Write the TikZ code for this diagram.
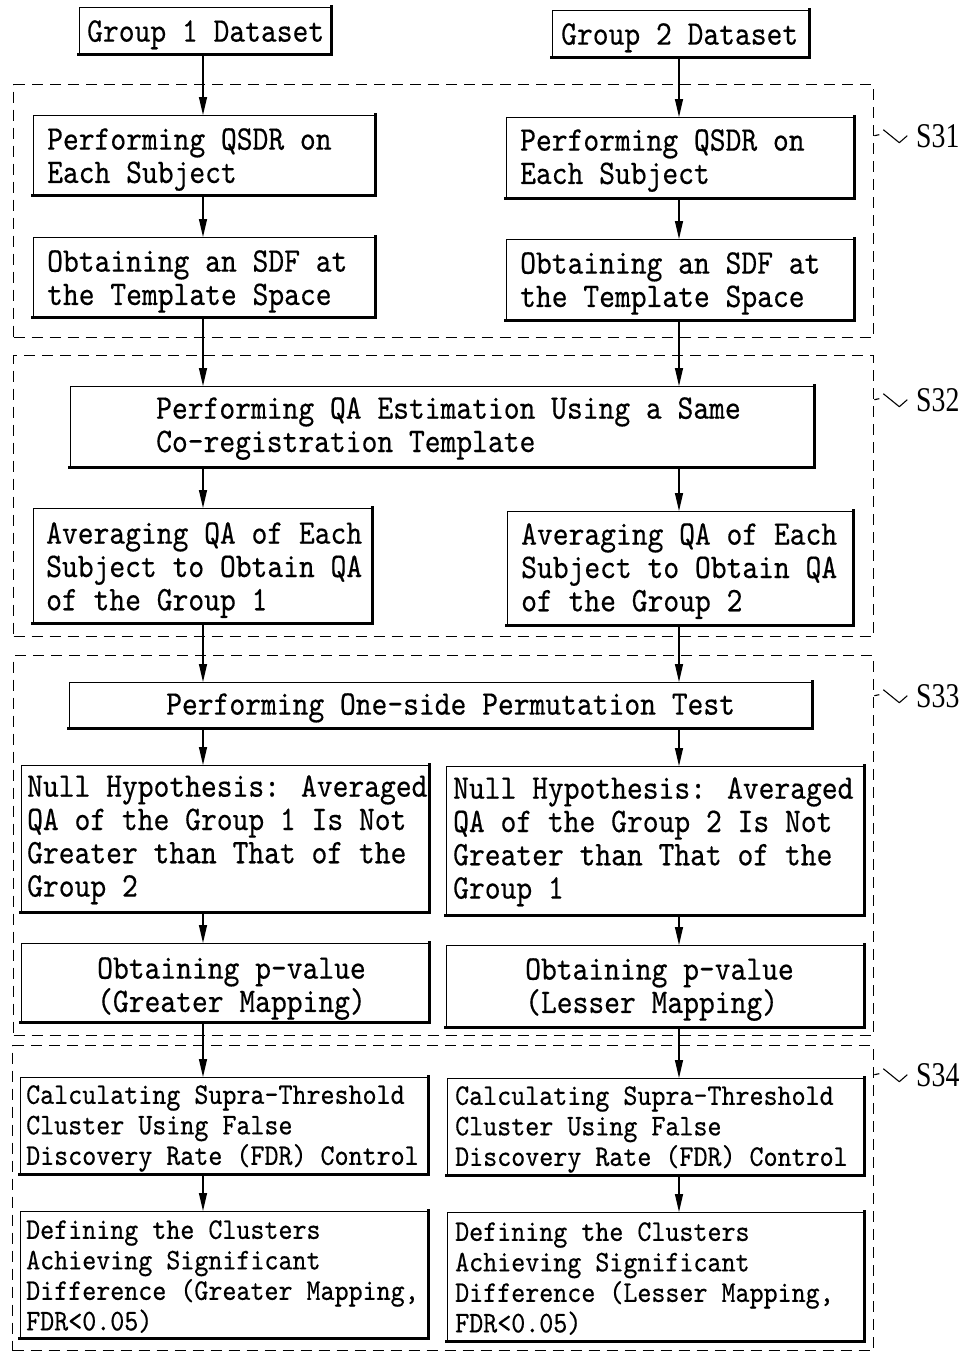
\documentclass[tikz,border=0pt]{standalone}
\usepackage{fontspec}
\usetikzlibrary{arrows.meta}
\newfontfamily\boxfont{lmmono10-regular.otf}[FakeStretch=0.8723,FakeBold=0.4]
\newfontfamily\narrowboxfont{lmmono10-regular.otf}[FakeStretch=0.89,FakeBold=0.4]
\newfontfamily\stepfont{Liberation Serif}[FakeStretch=0.8]

\begin{document}
\begin{tikzpicture}[x=1pt,y=-1pt,
  stepbox/.style={draw, line width=1.4pt, inner sep=0pt, anchor=north west},
  heavyedge/.style={line width=3.4pt, line cap=rect},
  boxtext/.style={inner sep=0pt, anchor=north west, align=left,
    font=\boxfont\fontsize{34.5}{33.3}\selectfont},
  smalltext/.style={boxtext, font=\narrowboxfont\fontsize{30}{30.5}\selectfont},
  stageframe/.style={draw, dash pattern=on 11pt off 7pt, line width=1.3pt,
    inner sep=0pt, anchor=north west},
  flow/.style={line width=1.3pt, -{Triangle[length=18pt,width=8pt]}},
  leader/.style={line width=1.1pt, line join=round},
  steplabel/.style={inner sep=0pt, anchor=base west,
    font=\stepfont\fontsize{34.7}{36}\selectfont}
]
\useasboundingbox (0,0) rectangle (968,1352);
\fill[white] (0,0) rectangle (968,1352);

% stage frames
\node[stageframe, minimum width=860pt, minimum height=253pt] (s31) at (13,84) {};
\node[stageframe, minimum width=860pt, minimum height=281pt] (s32) at (13,355) {};
\node[stageframe, minimum width=860pt, minimum height=380pt] (s33) at (13,655) {};
\node[stageframe, minimum width=861pt, minimum height=305pt] (s34) at (12,1045) {};

% step boxes
\node[stepbox, minimum width=252pt, minimum height=47pt] (g1) at (79,7) {};
\node[stepbox, minimum width=257pt, minimum height=47pt] (g2) at (552,10) {};
\node[stepbox, minimum width=342pt, minimum height=80pt] (qsdrL) at (33,115) {};
\node[stepbox, minimum width=348pt, minimum height=81pt] (qsdrR) at (506,117) {};
\node[stepbox, minimum width=342pt, minimum height=80pt] (sdfL) at (33,237) {};
\node[stepbox, minimum width=348pt, minimum height=81pt] (sdfR) at (506,239) {};
\node[stepbox, minimum width=744pt, minimum height=81pt] (qa) at (70,386) {};
\node[stepbox, minimum width=339pt, minimum height=115pt] (avgL) at (33,508) {};
\node[stepbox, minimum width=346pt, minimum height=114pt] (avgR) at (507,511) {};
\node[stepbox, minimum width=743pt, minimum height=46pt] (perm) at (69,682) {};
\node[stepbox, minimum width=408pt, minimum height=147pt] (nullL) at (21,765) {};
\node[stepbox, minimum width=418pt, minimum height=149pt] (nullR) at (446,766) {};
\node[stepbox, minimum width=408pt, minimum height=79pt] (pvalL) at (21,943) {};
\node[stepbox, minimum width=418pt, minimum height=82pt] (pvalR) at (446,945) {};
\node[stepbox, minimum width=408pt, minimum height=97pt] (calcL) at (20,1077) {};
\node[stepbox, minimum width=417pt, minimum height=97pt] (calcR) at (447,1078) {};
\node[stepbox, minimum width=408pt, minimum height=127pt] (defL) at (20,1211) {};
\node[stepbox, minimum width=417pt, minimum height=129pt] (defR) at (447,1212) {};

% heavier bottom and right edges of every box
\foreach \b in {g1,g2,qsdrL,qsdrR,sdfL,sdfR,qa,avgL,avgR,perm,nullL,nullR,pvalL,pvalR,calcL,calcR,defL,defR}
  \draw[heavyedge] ([yshift=1pt]\b.south west) -- ([xshift=-1pt,yshift=1pt]\b.south east)
    -- ([xshift=-1pt]\b.north east);

% box texts
\node[boxtext] (g1t) at (87,20) {Group 1 Dataset};
\node[boxtext] (g2t) at (561,23) {Group 2 Dataset};
\node[boxtext] (qsdrLt) at (47,128) {Performing QSDR on\\Each Subject};
\node[boxtext] (qsdrRt) at (520,129) {Performing QSDR on\\Each Subject};
\node[boxtext] (sdfLt) at (47,250) {Obtaining an SDF at\\the Template Space};
\node[boxtext] (sdfRt) at (520,252) {Obtaining an SDF at\\the Template Space};
\node[boxtext] (qat) at (156,397) {Performing QA Estimation Using a Same\\Co-registration Template};
\node[boxtext] (avgLt) at (46,522) {Averaging QA of Each\\Subject to Obtain QA\\of the Group 1};
\node[boxtext] (avgRt) at (521,523) {Averaging QA of Each\\Subject to Obtain QA\\of the Group 2};
\node[boxtext] (permt) at (166,693) {Performing One-side Permutation Test};
\node[boxtext] (nullLt) at (27,775) {Null Hypothesis: Averaged\\QA of the Group 1 Is Not\\Greater than That of the\\Group 2};
\node[boxtext] (nullRt) at (453,777) {Null Hypothesis: Averaged\\QA of the Group 2 Is Not\\Greater than That of the\\Group 1};
\node[boxtext] (pvalLt) at (97,957) {Obtaining p-value\\(Greater Mapping)};
\node[boxtext] (pvalRt) at (525,958) {Obtaining p-value\\(Lesser Mapping)};
\node[smalltext] (calcLt) at (26,1085) {Calculating Supra-Threshold\\Cluster Using False\\Discovery Rate (FDR) Control};
\node[smalltext] (calcRt) at (455,1086) {Calculating Supra-Threshold\\Cluster Using False\\Discovery Rate (FDR) Control};
\node[smalltext] (defLt) at (26,1220) {Defining the Clusters\\Achieving Significant\\Difference (Greater Mapping,\\FDR<0.05)};
\node[smalltext] (defRt) at (455,1222) {Defining the Clusters\\Achieving Significant\\Difference (Lesser Mapping,\\FDR<0.05)};

% flow columns
\coordinate (colL) at (203,0);
\coordinate (colR) at (679,0);

\draw[flow] (g1.south -| colL) -- (qsdrL.north -| colL);
\draw[flow] (qsdrL.south -| colL) -- (sdfL.north -| colL);
\draw[flow] (sdfL.south -| colL) -- (qa.north -| colL);
\draw[flow] (qa.south -| colL) -- (avgL.north -| colL);
\draw[flow] (avgL.south -| colL) -- (perm.north -| colL);
\draw[flow] (perm.south -| colL) -- (nullL.north -| colL);
\draw[flow] (nullL.south -| colL) -- (pvalL.north -| colL);
\draw[flow] (pvalL.south -| colL) -- (calcL.north -| colL);
\draw[flow] (calcL.south -| colL) -- (defL.north -| colL);

\draw[flow] (g2.south -| colR) -- (qsdrR.north -| colR);
\draw[flow] (qsdrR.south -| colR) -- (sdfR.north -| colR);
\draw[flow] (sdfR.south -| colR) -- (qa.north -| colR);
\draw[flow] (qa.south -| colR) -- (avgR.north -| colR);
\draw[flow] (avgR.south -| colR) -- (perm.north -| colR);
\draw[flow] (perm.south -| colR) -- (nullR.north -| colR);
\draw[flow] (nullR.south -| colR) -- (pvalR.north -| colR);
\draw[flow] (pvalR.south -| colR) -- (calcR.north -| colR);
\draw[flow] (calcR.south -| colR) -- (defR.north -| colR);

% stage labels with leaders
\node[steplabel] (l31) at (916,147) {S31};
\node[steplabel] (l32) at (916,411) {S32};
\node[steplabel] (l33) at (916,707) {S33};
\node[steplabel] (l34) at (916,1086) {S34};
\foreach \f/\l in {s31/l31,s32/l32,s33/l33,s34/l34}{
  \draw[leader] (\f.east |- \l.west) -- ++(5,-1);
  \draw[leader] (\f.east |- \l.west) ++(9,-6) -- ++(16,13) -- ++(8,-7);
}
\end{tikzpicture}
\end{document}
